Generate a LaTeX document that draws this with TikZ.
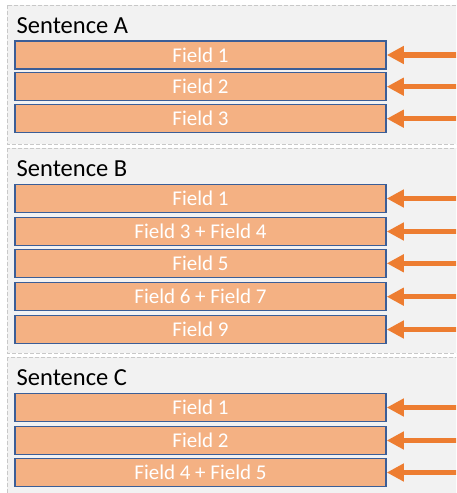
\documentclass[tikz,border=0pt]{standalone}
\usepackage{fontspec}
\setmainfont{Carlito}
\usetikzlibrary{arrows.meta}
\definecolor{grpfill}{HTML}{F2F2F2}
\definecolor{grpline}{HTML}{C8C8C8}
\definecolor{fldfill}{HTML}{F4B183}
\definecolor{fldline}{HTML}{3B5E97}
\definecolor{arrcol}{HTML}{ED7D31}
\tikzset{
  grp/.style={fill=grpfill, draw=grpline, line width=1pt, dash pattern=on 4pt off 2pt},
  fld/.style={draw=fldline, fill=fldfill, line width=1.5pt, minimum width=371pt, minimum height=28pt, inner sep=0pt, text=white, font=\fontsize{21}{25}\selectfont},
  ttl/.style={anchor=base west, inner sep=0pt, font=\fontsize{24.5}{28}\selectfont},
  arr/.style={draw=arrcol, line width=5.3pt, -{Triangle[length=17pt,width=17pt]}}
}
\begin{document}
\begin{tikzpicture}[x=1pt,y=-1pt]
\useasboundingbox (0,0) rectangle (456,493);
\clip (0,0) rectangle (456,493);
\fill[white] (0,0) rectangle (456,493);
% groups
\draw[grp] (7,5) rectangle (470,144.3);
\draw[grp] (7,148.3) rectangle (470,353);
\draw[grp] (7,357) rectangle (470,510);
% titles
\node[ttl] (ta) at (16.5,33) {Sentence A};
\node[ttl] (tb) at (16.5,176) {Sentence B};
\node[ttl] (tc) at (16.5,385) {Sentence C};
% fields A
\node[fld] (a1) at (200.5,55) {Field 1};
\node[fld] (a2) at (200.5,86.7) {Field 2};
\node[fld] (a3) at (200.5,118.7) {Field 3};
% fields B
\node[fld] (b1) at (200.5,198.5) {Field 1};
\node[fld] (b2) at (200.5,231.5) {Field 3 + Field 4};
\node[fld] (b3) at (200.5,263.3) {Field 5};
\node[fld] (b4) at (200.5,296.7) {Field 6 + Field 7};
\node[fld] (b5) at (200.5,329.5) {Field 9};
% fields C
\node[fld] (c1) at (200.5,407.5) {Field 1};
\node[fld] (c2) at (200.5,440.5) {Field 2};
\node[fld] (c3) at (200.5,472.5) {Field 4 + Field 5};
% arrows
\foreach \n in {a1,a2,a3,b1,b2,b3,b4,b5,c1,c2,c3}{
  \coordinate (s\n) at ([xshift=80pt]\n.east);
  \draw[arr] (s\n) -- (\n.east);
}
\end{tikzpicture}
\end{document}
